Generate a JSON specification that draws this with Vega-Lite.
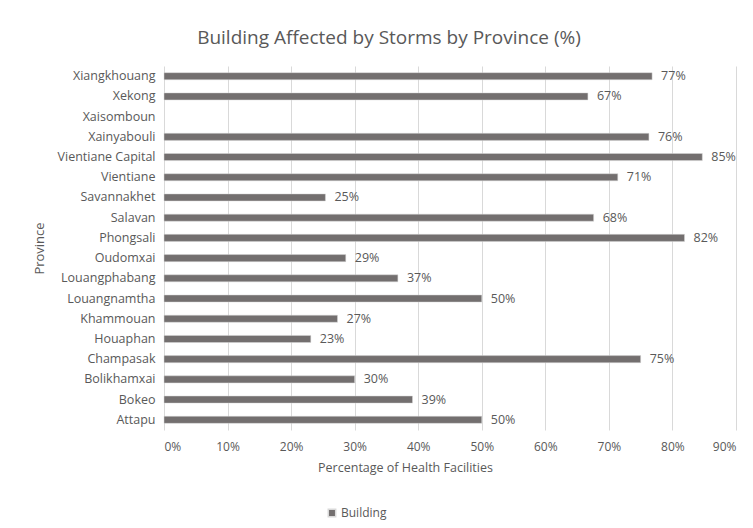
{
  "$schema": "https://vega.github.io/schema/vega-lite/v6.json",
  "width": 572,
  "height": 364,
  "autosize": {"type": "none"},
  "padding": {"left": 164, "top": 66, "right": 17, "bottom": 98},
  "background": "#ffffff",
  "title": {
    "text": "Building Affected by Storms by Province (%)",
    "font": "Open Sans",
    "fontSize": 19,
    "fontWeight": "normal",
    "color": "#595959",
    "anchor": "middle",
    "dx": -61,
    "offset": 18
  },
  "data": {
    "values": [
      {"province": "Xiangkhouang", "value": 0.768, "series": "Building"},
      {"province": "Xekong", "value": 0.667, "series": "Building"},
      {"province": "Xaisomboun", "value": null, "series": "Building"},
      {"province": "Xainyabouli", "value": 0.763, "series": "Building"},
      {"province": "Vientiane Capital", "value": 0.847, "series": "Building"},
      {"province": "Vientiane", "value": 0.714, "series": "Building"},
      {"province": "Savannakhet", "value": 0.254, "series": "Building"},
      {"province": "Salavan", "value": 0.676, "series": "Building"},
      {"province": "Phongsali", "value": 0.819, "series": "Building"},
      {"province": "Oudomxai", "value": 0.286, "series": "Building"},
      {"province": "Louangphabang", "value": 0.368, "series": "Building"},
      {"province": "Louangnamtha", "value": 0.5, "series": "Building"},
      {"province": "Khammouan", "value": 0.273, "series": "Building"},
      {"province": "Houaphan", "value": 0.231, "series": "Building"},
      {"province": "Champasak", "value": 0.75, "series": "Building"},
      {"province": "Bolikhamxai", "value": 0.3, "series": "Building"},
      {"province": "Bokeo", "value": 0.391, "series": "Building"},
      {"province": "Attapu", "value": 0.5, "series": "Building"}
    ]
  },
  "encoding": {
    "y": {
      "field": "province",
      "type": "nominal",
      "sort": ["Xiangkhouang","Xekong","Xaisomboun","Xainyabouli","Vientiane Capital","Vientiane","Savannakhet","Salavan","Phongsali","Oudomxai","Louangphabang","Louangnamtha","Khammouan","Houaphan","Champasak","Bolikhamxai","Bokeo","Attapu"],
      "scale": {"paddingInner": 0.65, "paddingOuter": 0.33},
      "axis": {
        "title": "Province",
        "titleFont": "Open Sans",
        "titleFontSize": 13,
        "titleFontWeight": "normal",
        "titleColor": "#595959",
        "titlePadding": 11,
        "labelFont": "Open Sans",
        "labelFontSize": 12.5,
        "labelColor": "#595959",
        "labelPadding": 9,
        "ticks": false,
        "domain": false,
        "grid": false
      }
    },
    "x": {
      "field": "value",
      "type": "quantitative",
      "scale": {"domain": [0, 0.9]},
      "axis": {
        "title": "Percentage of Health Facilities",
        "titleFont": "Open Sans",
        "titleFontSize": 12.5,
        "titleFontWeight": "normal",
        "titleColor": "#595959",
        "titlePadding": 9,
        "titleX": 241,
        "format": ".0%",
        "values": [0,0.1,0.2,0.3,0.4,0.5,0.6,0.7,0.8,0.9],
        "labelFont": "Open Sans",
        "labelFontSize": 12,
        "labelColor": "#595959",
        "labelPadding": 11,
        "ticks": false,
        "domain": false,
        "grid": true,
        "gridColor": "#d9d9d9",
        "gridWidth": 1
      }
    }
  },
  "layer": [
    {
      "mark": {"type": "bar", "stroke": "#d9d9d9", "strokeWidth": 0.5},
      "encoding": {
        "color": {
          "field": "series",
          "type": "nominal",
          "scale": {"range": ["#736f6f"]},
          "legend": {
            "title": null,
            "orient": "none",
            "legendX": 162,
            "legendY": 441,
            "symbolType": "square",
            "symbolSize": 55,
            "labelFont": "Open Sans",
            "labelFontSize": 12,
            "labelColor": "#595959",
            "labelOffset": 3
          }
        }
      }
    },
    {
      "transform": [{"filter": "datum.value != null"}],
      "mark": {"type": "text", "align": "left", "dx": 9, "font": "Open Sans", "fontSize": 12.5, "color": "#595959"},
      "encoding": {
        "text": {"field": "value", "type": "quantitative", "format": ".0%"}
      }
    }
  ],
  "config": {"view": {"stroke": null}}
}
